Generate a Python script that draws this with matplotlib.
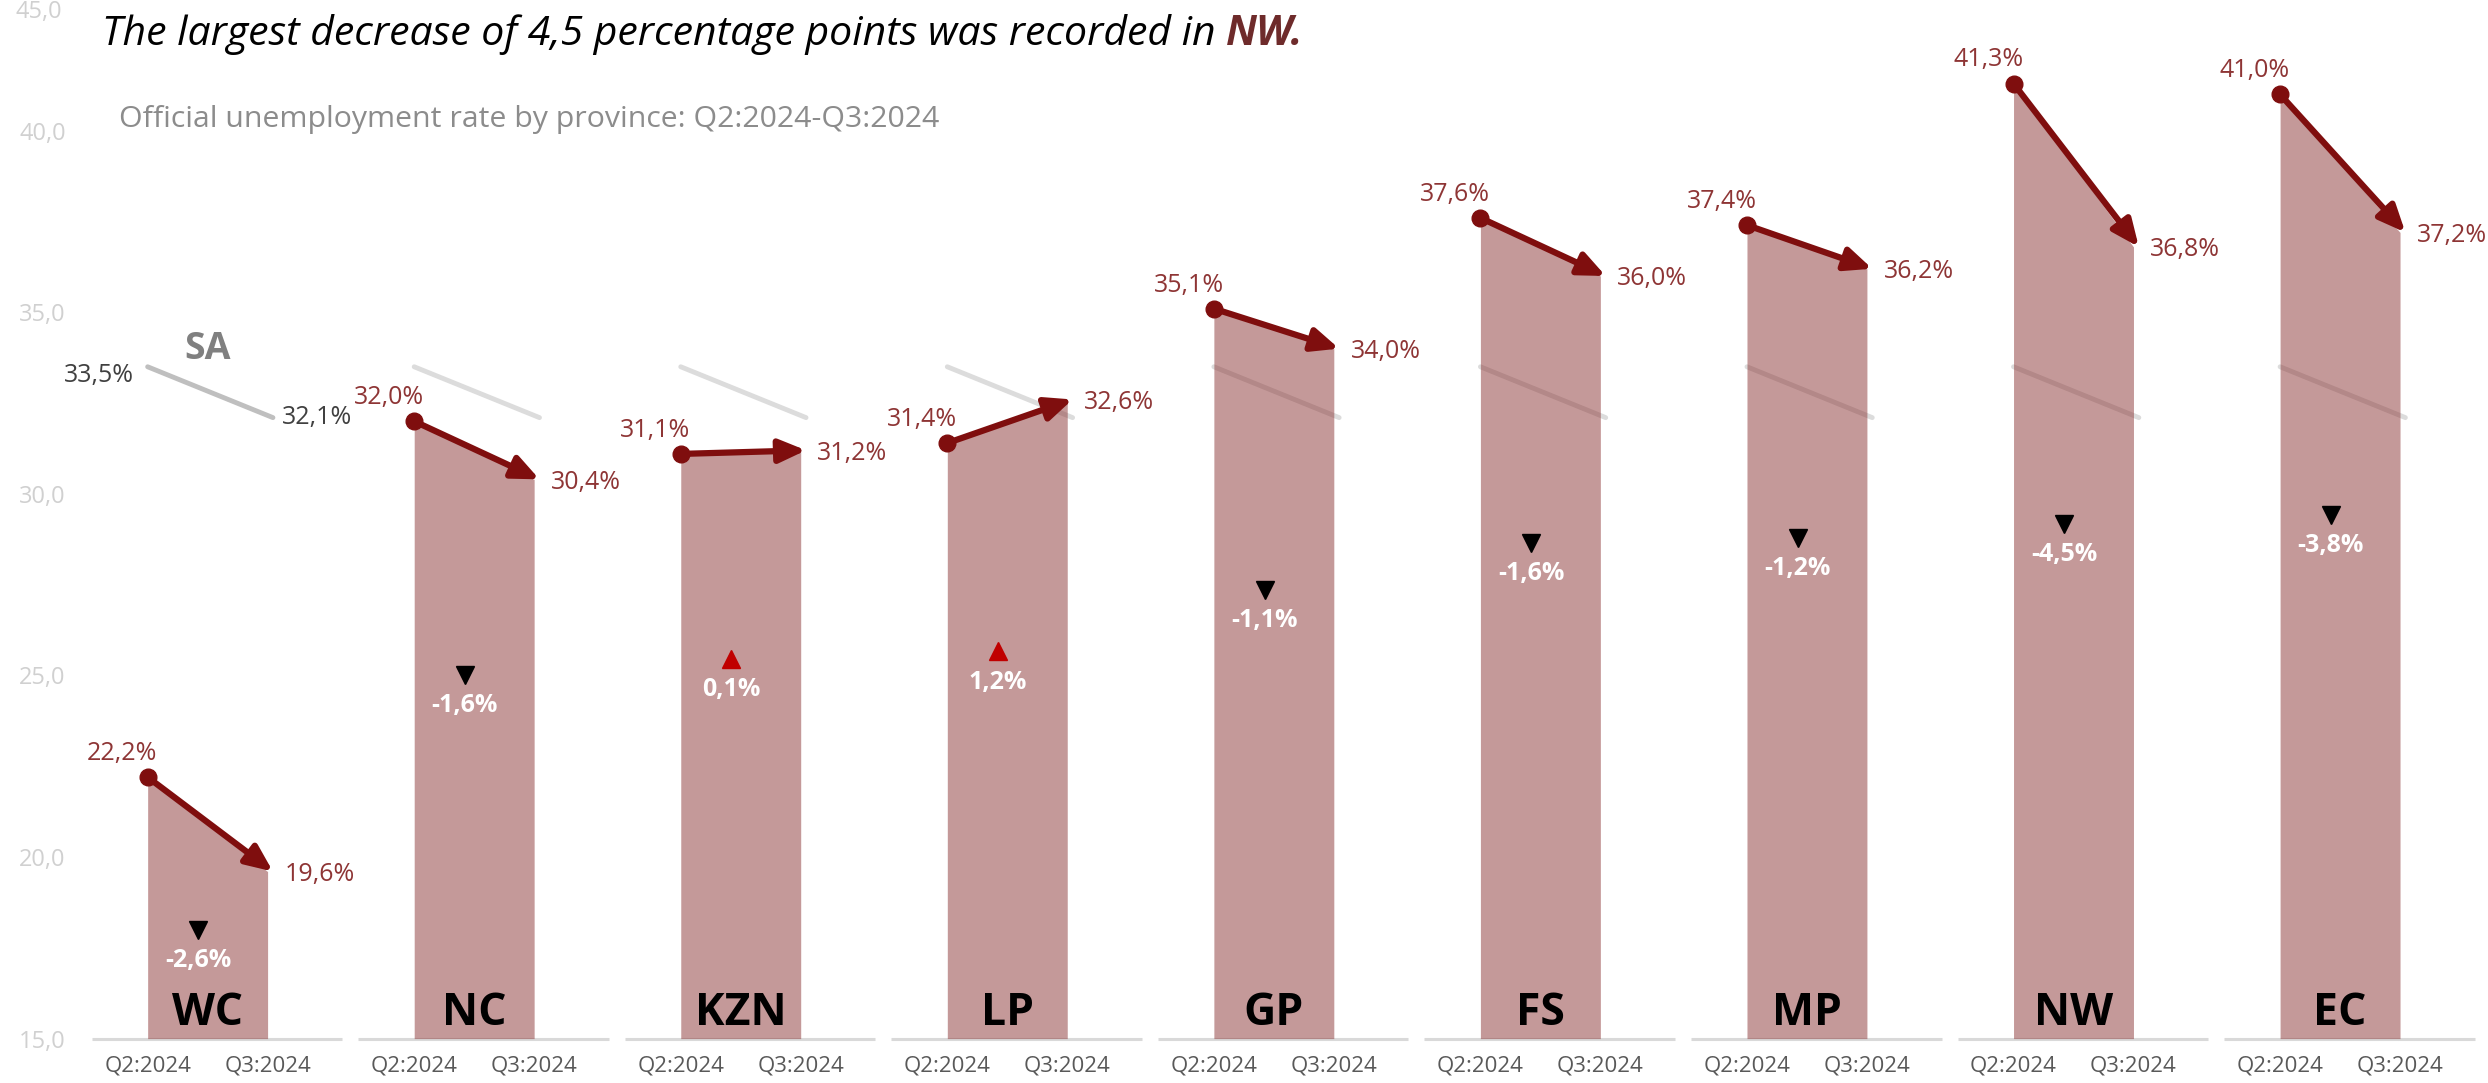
import numpy as np
import matplotlib
matplotlib.use("Agg")
import matplotlib.pyplot as plt

plt.rcParams['font.family'] = ['Open Sans', 'DejaVu Sans']

# data
provinces = ['WC', 'NC', 'KZN', 'LP', 'GP', 'FS', 'MP', 'NW', 'EC']
q2_2024 = [22.2, 32.0, 31.1, 31.4, 35.1, 37.6, 37.4, 41.3, 41.0]
q3_2024 = [19.6, 30.4, 31.2, 32.6, 34.0, 36.0, 36.2, 36.8, 37.2]
sa_rate = [33.5, 32.1]
quarters = ['Q2:2024', 'Q3:2024']
y_ticks = [15, 20, 25, 30, 35, 40]

fill_c = '#8B3535'
arrow_c = '#7F0E0E'
label_c = '#8E3535'
base = 15
gap = 0.45  # distance between the two quarters inside a panel

fig = plt.figure(figsize=(24.88, 10.83), dpi=100)
ax = fig.add_axes([0.0287, 0.041, 0.9713, 0.959])
ax.set_xlim(-0.286, 8.78)
ax.set_ylim(15, 43.6)

def pct(v):
    return f'{v:.1f}%'.replace('.', ',')

xt, xl = [], []
for i, p in enumerate(provinces):
    x2, x3 = i, i + gap
    v2, v3 = q2_2024[i], q3_2024[i]

    # baseline of the small panel
    ax.plot([x2 - 0.21, x3 + 0.28], [base, base], color='#D9D9D9', lw=2.2,
            zorder=1, clip_on=False, solid_capstyle='butt')

    # SA reference line (behind the fill)
    sa_col = '#BFBFBF' if i == 0 else '#DCDCDC'
    ax.plot([x2, x3 + 0.02], sa_rate, color=sa_col, lw=3.5, zorder=2,
            solid_capstyle='round')

    # filled shape
    ax.fill_between([x2, x3], [v2, v3], base, color=fill_c, alpha=0.5,
                    lw=0, zorder=3)

    # arrow Q2 -> Q3
    ax.annotate('', xy=(x3 + 0.02, v3), xytext=(x2, v2),
                arrowprops=dict(arrowstyle='-|>,head_length=0.8,head_width=0.35',
                                color=arrow_c, lw=4.5, shrinkA=0, shrinkB=0,
                                mutation_scale=20), zorder=5)
    ax.plot([x2], [v2], 'o', color=arrow_c, ms=12, zorder=6)

    # value labels
    ax.annotate(pct(v2), (x2, v2), xytext=(7, 8), textcoords='offset points',
                ha='right', va='bottom', fontsize=18, color=label_c, zorder=7)
    ax.annotate(pct(v3), (x3, v3), xytext=(12, -2), textcoords='offset points',
                ha='left', va='center', fontsize=18, color=label_c, zorder=7)

    # change marker and label
    d = round(v3 - v2, 1)
    ym = base + 0.65 * (min(v2, v3) - base)
    xm = x2 + 0.19
    if d < 0:
        ax.plot([xm], [ym], 'v', color='black', ms=13, zorder=6)
    else:
        ax.plot([xm], [ym], '^', color='#C00000', ms=13, zorder=6)
    ax.annotate(pct(d), (xm, ym), xytext=(0, -22), textcoords='offset points',
                ha='center', va='center', fontsize=18, fontweight='bold',
                color='white', zorder=7)

    # province name
    ax.annotate(p, (x2 + gap / 2, base), xytext=(0, 18), textcoords='offset points',
                ha='center', va='center', fontsize=32, fontweight='bold',
                color='black', zorder=7)

    xt += [x2, x3]
    xl += quarters

# SA labels in the first panel
ax.annotate(pct(sa_rate[0]), (0, sa_rate[0]), xytext=(-10, -6), textcoords='offset points',
            ha='right', va='center', fontsize=18, color='#404040')
ax.annotate(pct(sa_rate[1]), (gap, sa_rate[1]), xytext=(10, 0), textcoords='offset points',
            ha='left', va='center', fontsize=18, color='#404040')
ax.annotate('SA', (gap / 2, sa_rate[0]), xytext=(0, 13), textcoords='offset points',
            ha='center', va='center', fontsize=27, fontweight='bold', color='#808080')

ax.set_xticks(xt)
ax.set_xticklabels(xl, fontsize=16, color='#595959')
ax.set_yticks(y_ticks)
ax.set_yticklabels([f'{t:.1f}'.replace('.', ',') for t in y_ticks], fontsize=17,
                   color='#D0D0D0')
ax.tick_params(length=0, axis='x', pad=12)
ax.tick_params(length=0, axis='y', pad=4)
for s in ax.spines.values():
    s.set_visible(False)
ax.patch.set_alpha(0)
ax.text(-0.004, 1.0, '45,0', transform=ax.transAxes, ha='right', va='top',
        fontsize=17, color='#D0D0D0')

# headings
t1 = fig.text(0.041, 0.968, 'The largest decrease of 4,5 percentage points was recorded in ',
              fontsize=29.5, style='italic', color='black', va='center')
ax.annotate('NW.', xy=(1, 0.5), xycoords=t1, va='center', ha='left',
            fontsize=29.5, style='italic', fontweight='bold', color='#6E2B2B',
            annotation_clip=False)
fig.text(0.048, 0.89, 'Official unemployment rate by province: Q2:2024-Q3:2024',
         fontsize=21.8, color='#8C8C8C', va='center')

fig.savefig('out.png', dpi=100)
